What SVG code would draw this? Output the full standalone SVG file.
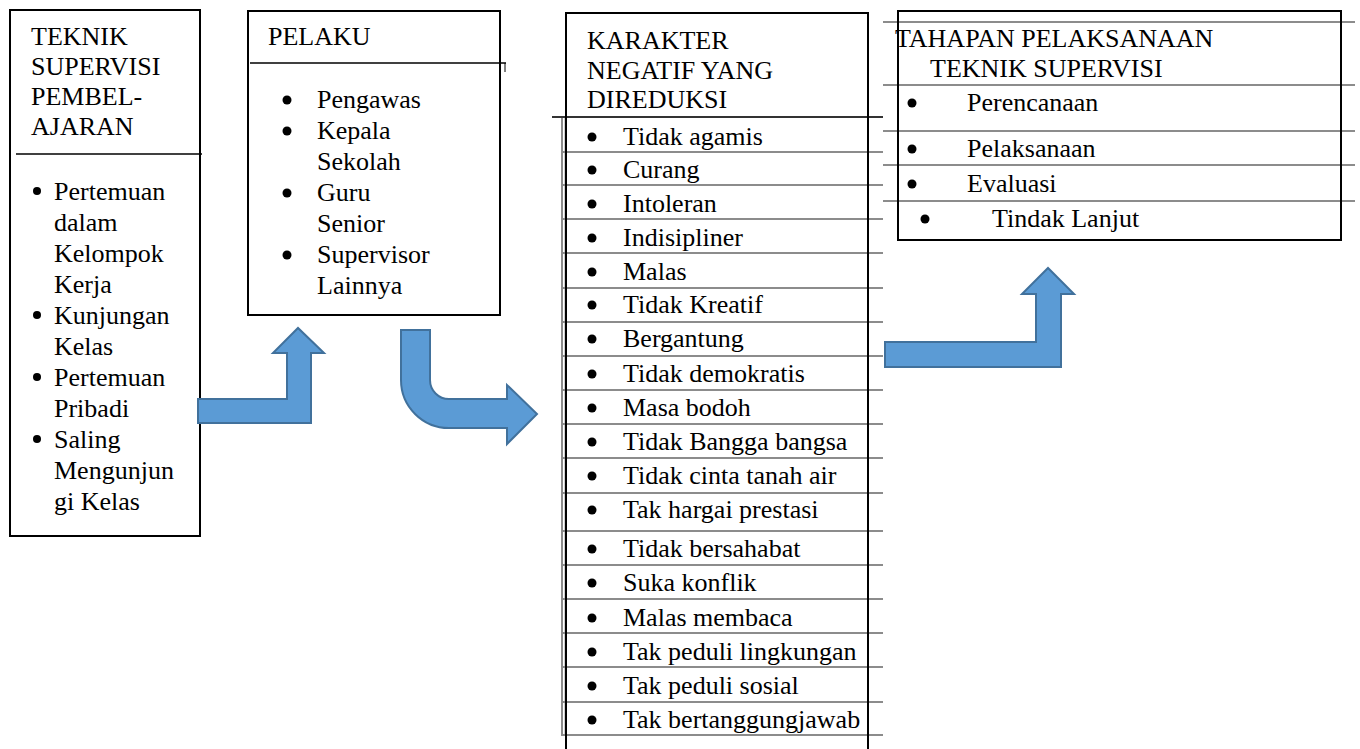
<svg xmlns="http://www.w3.org/2000/svg" width="1360" height="749" viewBox="0 0 1360 749">
<style>
text{font-family:'Times New Roman','Liberation Serif',Tinos,'DejaVu Serif',serif;font-size:26px;fill:#000}
.box{fill:none;stroke:#000;stroke-width:2}
.div{stroke:#000;stroke-width:1.5}
.gl{stroke:#8c8c8c;stroke-width:2}
.gs{stroke:#cfcfcf;stroke-width:1}
.arrow{fill:#5B9BD5;stroke:#41719C;stroke-width:2;stroke-linejoin:miter}
.b{fill:#000}
</style>
<rect width="1360" height="749" fill="#fff"/>
<g id="node-teknik">
<rect class="box" x="10" y="10" width="190" height="526"/>
<line class="div" x1="16" y1="154" x2="202" y2="154"/>
<text x="31" y="45">TEKNIK</text>
<text x="31" y="75">SUPERVISI</text>
<text x="31" y="105">PEMBEL-</text>
<text x="31" y="135">AJARAN</text>
<circle class="b" cx="37" cy="191" r="4"/>
<text x="54" y="200">Pertemuan</text>
<text x="54" y="231">dalam</text>
<text x="54" y="262">Kelompok</text>
<text x="54" y="293">Kerja</text>
<circle class="b" cx="37" cy="315" r="4"/>
<text x="54" y="324">Kunjungan</text>
<text x="54" y="355">Kelas</text>
<circle class="b" cx="37" cy="377" r="4"/>
<text x="54" y="386">Pertemuan</text>
<text x="54" y="417">Pribadi</text>
<circle class="b" cx="37" cy="439" r="4"/>
<text x="54" y="448">Saling</text>
<text x="54" y="479">Mengunjun</text>
<text x="54" y="510">gi Kelas</text>
</g>

<g id="node-pelaku">
<rect class="box" x="248" y="11" width="252" height="304"/>
<line class="div" x1="250" y1="63" x2="506" y2="63"/>
<line stroke="#000" stroke-width="1" x1="505" y1="63" x2="505" y2="72"/>
<text x="268" y="45">PELAKU</text>
<circle class="b" cx="287" cy="100" r="4.5"/>
<text x="317" y="108">Pengawas</text>
<circle class="b" cx="287" cy="131" r="4.5"/>
<text x="317" y="139">Kepala</text>
<text x="317" y="170">Sekolah</text>
<circle class="b" cx="287" cy="193" r="4.5"/>
<text x="317" y="201">Guru</text>
<text x="317" y="232">Senior</text>
<circle class="b" cx="287" cy="255" r="4.5"/>
<text x="317" y="263">Supervisor</text>
<text x="317" y="294">Lainnya</text>
</g>

<g id="node-karakter">
<line class="gl" x1="562" y1="117" x2="562" y2="736"/>
<line class="gs" x1="564.5" y1="117" x2="564.5" y2="736"/>
<g>
<line class="gl" x1="562" y1="152" x2="883" y2="152"/>
<line class="gl" x1="562" y1="185" x2="883" y2="185"/>
<line class="gl" x1="562" y1="219" x2="883" y2="219"/>
<line class="gl" x1="562" y1="253" x2="883" y2="253"/>
<line class="gl" x1="562" y1="288" x2="883" y2="288"/>
<line class="gl" x1="562" y1="322" x2="883" y2="322"/>
<line class="gl" x1="562" y1="356" x2="883" y2="356"/>
<line class="gl" x1="562" y1="390" x2="883" y2="390"/>
<line class="gl" x1="562" y1="424" x2="883" y2="424"/>
<line class="gl" x1="562" y1="458" x2="883" y2="458"/>
<line class="gl" x1="562" y1="493" x2="883" y2="493"/>
<line class="gl" x1="562" y1="531" x2="883" y2="531"/>
<line class="gl" x1="562" y1="565" x2="883" y2="565"/>
<line class="gl" x1="562" y1="599" x2="883" y2="599"/>
<line class="gl" x1="562" y1="633" x2="883" y2="633"/>
<line class="gl" x1="562" y1="667" x2="883" y2="667"/>
<line class="gl" x1="562" y1="702" x2="883" y2="702"/>
<line class="gl" x1="562" y1="735" x2="883" y2="735"/>
</g>
<line stroke="#333" stroke-width="2" x1="552" y1="117" x2="883" y2="117"/>
<polyline class="box" points="566,749 566,13 868,13 868,749"/>
<text x="587" y="49">KARAKTER</text>
<text x="587" y="79">NEGATIF YANG</text>
<text x="587" y="108">DIREDUKSI</text>
<g class="b">
<circle cx="592" cy="137" r="4.5"/>
<circle cx="592" cy="170" r="4.5"/>
<circle cx="592" cy="204" r="4.5"/>
<circle cx="592" cy="238" r="4.5"/>
<circle cx="592" cy="272" r="4.5"/>
<circle cx="592" cy="305" r="4.5"/>
<circle cx="592" cy="339" r="4.5"/>
<circle cx="592" cy="374" r="4.5"/>
<circle cx="592" cy="408" r="4.5"/>
<circle cx="592" cy="442" r="4.5"/>
<circle cx="592" cy="476" r="4.5"/>
<circle cx="592" cy="510" r="4.5"/>
<circle cx="592" cy="549" r="4.5"/>
<circle cx="592" cy="583" r="4.5"/>
<circle cx="592" cy="618" r="4.5"/>
<circle cx="592" cy="652" r="4.5"/>
<circle cx="592" cy="686" r="4.5"/>
<circle cx="592" cy="720" r="4.5"/>
</g>
<text x="623" y="145">Tidak agamis</text>
<text x="623" y="178">Curang</text>
<text x="623" y="212">Intoleran</text>
<text x="623" y="246">Indisipliner</text>
<text x="623" y="280">Malas</text>
<text x="623" y="313">Tidak Kreatif</text>
<text x="623" y="347">Bergantung</text>
<text x="623" y="382">Tidak demokratis</text>
<text x="623" y="416">Masa bodoh</text>
<text x="623" y="450">Tidak Bangga bangsa</text>
<text x="623" y="484">Tidak cinta tanah air</text>
<text x="623" y="518">Tak hargai prestasi</text>
<text x="623" y="557">Tidak bersahabat</text>
<text x="623" y="591">Suka konflik</text>
<text x="623" y="626">Malas membaca</text>
<text x="623" y="660">Tak peduli lingkungan</text>
<text x="623" y="694">Tak peduli sosial</text>
<text x="623" y="728">Tak bertanggungjawab</text>
</g>

<g id="node-tahapan">
<line class="gl" x1="883" y1="22" x2="1355" y2="22"/>
<line class="gl" x1="883" y1="85" x2="1355" y2="85"/>
<line class="gl" x1="883" y1="131" x2="1355" y2="131"/>
<line class="gl" x1="883" y1="165" x2="1355" y2="165"/>
<line class="gl" x1="883" y1="201" x2="1355" y2="201"/>
<rect class="box" x="898" y="11" width="443" height="229"/>
<text x="895" y="47">TAHAPAN PELAKSANAAN</text>
<text x="930" y="77">TEKNIK SUPERVISI</text>
<circle class="b" cx="912" cy="103" r="4.5"/>
<text x="967" y="111">Perencanaan</text>
<circle class="b" cx="912" cy="149" r="4.5"/>
<text x="967" y="157">Pelaksanaan</text>
<circle class="b" cx="912" cy="184" r="4.5"/>
<text x="967" y="192">Evaluasi</text>
<circle class="b" cx="925" cy="219" r="4.5"/>
<text x="992" y="227">Tindak Lanjut</text>
</g>

<g id="connectors">
<polygon class="arrow" points="198,399 287,399 287,353 273,353 298,328 324,353 311,353 311,423 198,423"/>
<path class="arrow" d="M401,330 L430,330 L430,380 A19,19 0 0 0 449,399 L507,399 L507,385 L537,414 L507,444 L507,428 L449,428 A48,48 0 0 1 401,380 Z"/>
<polygon class="arrow" points="885,342 1036,342 1036,294 1022,294 1048,268 1074,294 1061,294 1061,367 885,367"/>
</g>
</svg>
